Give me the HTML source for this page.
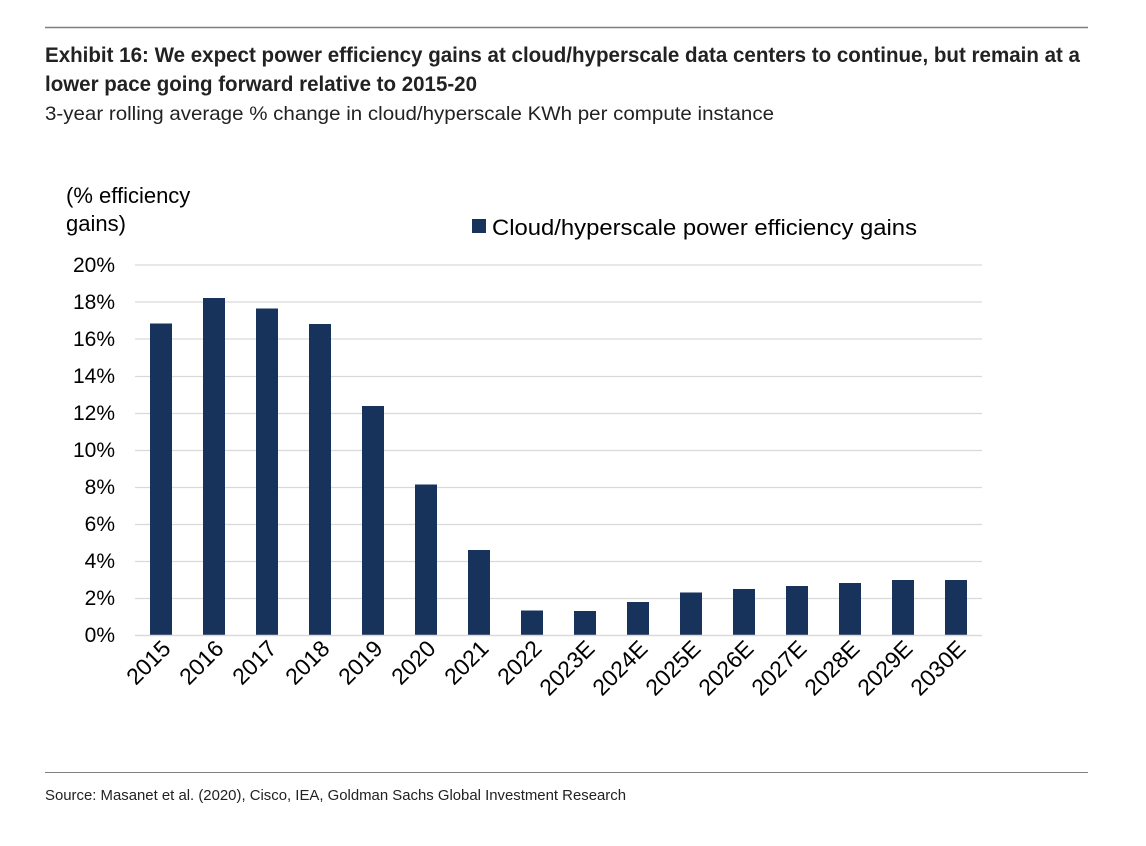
<!DOCTYPE html>
<html><head><meta charset="utf-8"><style>
body{margin:0;background:#fff;width:1146px;height:846px;overflow:hidden}
svg{display:block}
</style></head><body>
<svg width="1146" height="846" xmlns="http://www.w3.org/2000/svg">
<line x1="45" y1="27.5" x2="1088" y2="27.5" stroke="#7f7f7f" stroke-width="1.5"/>
<g font-family="'Liberation Sans Narrow','Liberation Sans',sans-serif" font-weight="bold" font-size="21" fill="#222">
<text x="45" y="62" textLength="1035" lengthAdjust="spacingAndGlyphs">Exhibit 16: We expect power efficiency gains at cloud/hyperscale data centers to continue, but remain at a</text>
<text x="45" y="91" textLength="432" lengthAdjust="spacingAndGlyphs">lower pace going forward relative to 2015-20</text>
</g>
<text x="45" y="120" font-family="'Liberation Sans Narrow','Liberation Sans',sans-serif" font-size="19.5" fill="#222" textLength="729" lengthAdjust="spacingAndGlyphs">3-year rolling average % change in cloud/hyperscale KWh per compute instance</text>
<g font-family="'Liberation Sans',sans-serif" font-size="22" fill="#000">
<text x="66" y="203">(% efficiency</text>
<text x="66" y="231">gains)</text>
<rect x="472" y="219" width="14" height="14" fill="#17335c"/>
<text x="492" y="235" textLength="425" lengthAdjust="spacingAndGlyphs">Cloud/hyperscale power efficiency gains</text>
</g>
<g stroke="#d9d9d9" stroke-width="1.3">
<line x1="135" y1="265" x2="982" y2="265"/><line x1="135" y1="302" x2="982" y2="302"/>
<line x1="135" y1="339" x2="982" y2="339"/><line x1="135" y1="376.5" x2="982" y2="376.5"/>
<line x1="135" y1="413.5" x2="982" y2="413.5"/><line x1="135" y1="450.5" x2="982" y2="450.5"/>
<line x1="135" y1="487.5" x2="982" y2="487.5"/><line x1="135" y1="524.5" x2="982" y2="524.5"/>
<line x1="135" y1="561.5" x2="982" y2="561.5"/><line x1="135" y1="598.5" x2="982" y2="598.5"/>
</g>
<g font-family="'Liberation Sans',sans-serif" font-size="21" fill="#000" text-anchor="end">
<text x="115" y="272">20%</text><text x="115" y="309">18%</text><text x="115" y="346">16%</text>
<text x="115" y="383">14%</text><text x="115" y="420">12%</text><text x="115" y="457">10%</text>
<text x="115" y="494">8%</text><text x="115" y="531">6%</text><text x="115" y="568">4%</text>
<text x="115" y="605">2%</text><text x="115" y="642">0%</text>
</g>
<g fill="#17335c">
<rect x="150" y="323.5" width="22" height="312"/>
<rect x="203" y="298" width="22" height="337.5"/>
<rect x="256" y="308.5" width="22" height="327"/>
<rect x="309" y="324" width="22" height="311.5"/>
<rect x="362" y="406" width="22" height="229.5"/>
<rect x="415" y="484.5" width="22" height="151"/>
<rect x="468" y="550" width="22" height="85.5"/>
<rect x="521" y="610.5" width="22" height="25"/>
<rect x="574" y="611" width="22" height="24.5"/>
<rect x="627" y="602" width="22" height="33.5"/>
<rect x="680" y="592.5" width="22" height="43"/>
<rect x="733" y="589" width="22" height="46.5"/>
<rect x="786" y="586" width="22" height="49.5"/>
<rect x="839" y="583" width="22" height="52.5"/>
<rect x="892" y="580" width="22" height="55.5"/>
<rect x="945" y="580" width="22" height="55.5"/>
</g>
<line x1="135" y1="635.5" x2="982" y2="635.5" stroke="#d9d9d9" stroke-width="1.5"/>
<g font-family="'Liberation Sans',sans-serif" font-size="23" fill="#000" text-anchor="end">
<text transform="translate(172,650) rotate(-45)">2015</text>
<text transform="translate(225,650) rotate(-45)">2016</text>
<text transform="translate(278,650) rotate(-45)">2017</text>
<text transform="translate(331,650) rotate(-45)">2018</text>
<text transform="translate(384,650) rotate(-45)">2019</text>
<text transform="translate(437,650) rotate(-45)">2020</text>
<text transform="translate(490,650) rotate(-45)">2021</text>
<text transform="translate(543,650) rotate(-45)">2022</text>
<text transform="translate(596,650) rotate(-45)">2023E</text>
<text transform="translate(649,650) rotate(-45)">2024E</text>
<text transform="translate(702,650) rotate(-45)">2025E</text>
<text transform="translate(755,650) rotate(-45)">2026E</text>
<text transform="translate(808,650) rotate(-45)">2027E</text>
<text transform="translate(861,650) rotate(-45)">2028E</text>
<text transform="translate(914,650) rotate(-45)">2029E</text>
<text transform="translate(967,650) rotate(-45)">2030E</text>
</g>
<line x1="45" y1="772.5" x2="1088" y2="772.5" stroke="#7f7f7f" stroke-width="1"/>
<text x="45" y="800" font-family="'Liberation Sans Narrow','Liberation Sans',sans-serif" font-size="15" fill="#222" textLength="581" lengthAdjust="spacingAndGlyphs">Source: Masanet et al. (2020), Cisco, IEA, Goldman Sachs Global Investment Research</text>
</svg>
</body></html>
